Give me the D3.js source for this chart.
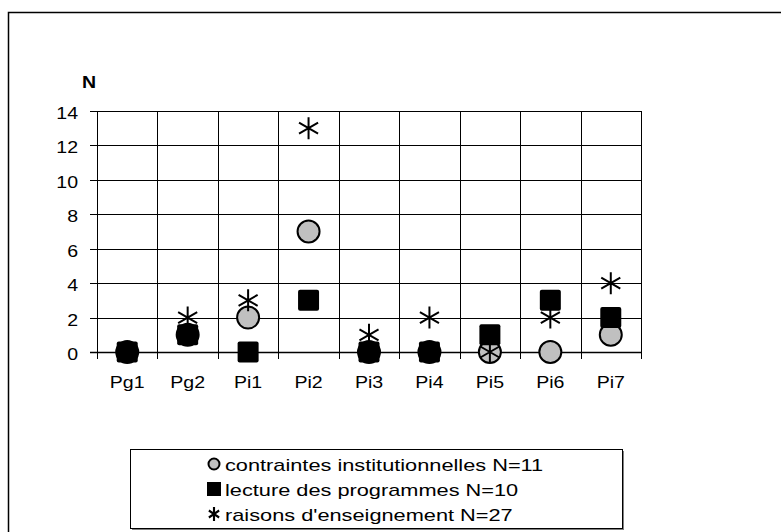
<!DOCTYPE html>
<html>
<head>
<meta charset="utf-8">
<script src="https://cdn.jsdelivr.net/npm/d3@7"></script>
<style>
  body { margin: 0; background: #fff; }
  svg text { font-family: "Liberation Sans", Arial, sans-serif; fill: #000; }
</style>
</head>
<body>
<div id="chart"></div>
<script>
// Data
var categories = ["Pg1", "Pg2", "Pi1", "Pi2", "Pi3", "Pi4", "Pi5", "Pi6", "Pi7"];
var contraintes = [0, 1, 2, 7, 0, 0, 0, 0, 1];
var lecture = [0, 1, 0, 3, 0, 0, 1, 3, 2];
var raisons = [0, 2, 3, 13, 1, 2, 0, 2, 4];
var yTicks = [0, 2, 4, 6, 8, 10, 12, 14];
var legendLabels = [
  "contraintes institutionnelles N=11",
  "lecture des programmes N=10",
  "raisons d'enseignement N=27"
];

var W = 781, H = 532;
var plot = { left: 97, right: 641, top: 111, bottom: 352 };
// the original chart is a bit stretched horizontally
var tickFont = "17px", tickSx = 1.15;
var legFont = "17px", legSx = 1.28;

var svg = d3.select("#chart")
  .append("svg")
    .attr("width", W)
    .attr("height", H);

// outer frame
svg.append("rect")
  .attr("x", 8.5).attr("y", 12.5)
  .attr("width", 800).attr("height", 600)
  .attr("fill", "none")
  .attr("stroke", "#000")
  .attr("stroke-width", 1.5);

var x = d3.scaleBand()
  .domain(categories)
  .range([plot.left, plot.right]);

var y = d3.scaleLinear()
  .domain([0, 14])
  .range([plot.bottom, plot.top]);

function place(px, py, s) {
  return "translate(" + px + "," + py + ") scale(" + s + ",1)";
}

// horizontal grid
svg.append("g")
  .selectAll("line")
  .data(yTicks)
  .enter().append("line")
    .attr("x1", plot.left - 7)
    .attr("x2", plot.right)
    .attr("y1", d => Math.round(y(d)) + 0.5)
    .attr("y2", d => Math.round(y(d)) + 0.5)
    .attr("stroke", "#000")
    .attr("stroke-width", d => d === 0 ? 1.5 : 1);

// vertical grid (band boundaries)
var bounds = categories.map(c => x(c)).concat([plot.right]);
svg.append("g")
  .selectAll("line")
  .data(bounds)
  .enter().append("line")
    .attr("x1", d => Math.round(d) + 0.5)
    .attr("x2", d => Math.round(d) + 0.5)
    .attr("y1", plot.top)
    .attr("y2", plot.bottom + 7)
    .attr("stroke", "#000")
    .attr("stroke-width", 1);

// y tick labels
svg.append("g")
  .selectAll("text")
  .data(yTicks)
  .enter().append("text")
    .attr("transform", d => place(plot.left - 19, y(d) + 2, tickSx))
    .attr("dy", "0.35em")
    .attr("text-anchor", "end")
    .style("font-size", tickFont)
    .text(d => d);

// x tick labels
svg.append("g")
  .selectAll("text")
  .data(categories)
  .enter().append("text")
    .attr("transform", d => place(x(d) + x.bandwidth() / 2, plot.bottom + 36, tickSx))
    .attr("text-anchor", "middle")
    .style("font-size", tickFont)
    .text(d => d);

// axis title
svg.append("text")
  .attr("transform", place(89, 88, tickSx))
  .attr("text-anchor", "middle")
  .style("font-size", tickFont)
  .style("font-weight", "bold")
  .text("N");

function starPath(r) {
  var a = r * Math.sin(Math.PI / 3), b = r * Math.cos(Math.PI / 3);
  return "M0," + (-r) + "L0," + r +
         "M" + (-a) + "," + (-b) + "L" + a + "," + b +
         "M" + (-a) + "," + b + "L" + a + "," + (-b);
}

var cx = d => x(d) + x.bandwidth() / 2;

// series 1: grey circles (black where hidden by a square at the same value)
svg.append("g")
  .selectAll("circle")
  .data(categories)
  .enter().append("circle")
    .attr("cx", cx)
    .attr("cy", (d, i) => y(contraintes[i]))
    .attr("r", 11)
    .attr("fill", (d, i) => contraintes[i] === lecture[i] ? "#000" : "#c0c0c0")
    .attr("stroke", "#000")
    .attr("stroke-width", 2);

// series 2: black squares
svg.append("g")
  .selectAll("rect")
  .data(categories)
  .enter().append("rect")
    .attr("x", d => cx(d) - 10.5)
    .attr("y", (d, i) => y(lecture[i]) - 10.5)
    .attr("width", 21)
    .attr("height", 21)
    .attr("rx", 2)
    .attr("fill", "#000");

// series 3: asterisks
svg.append("g")
  .selectAll("path")
  .data(categories)
  .enter().append("path")
    .attr("transform", (d, i) => "translate(" + cx(d) + "," + y(raisons[i]) + ")")
    .attr("d", starPath(11))
    .attr("fill", "none")
    .attr("stroke", "#000")
    .attr("stroke-width", 2);

// legend
var lg = svg.append("g");
lg.append("rect")
  .attr("x", 132).attr("y", 451)
  .attr("width", 492).attr("height", 79)
  .attr("fill", "#808080");
lg.append("rect")
  .attr("x", 130.5).attr("y", 449.5)
  .attr("width", 492).attr("height", 79)
  .attr("fill", "#fff")
  .attr("stroke", "#000")
  .attr("stroke-width", 1);

var legY = [464, 489, 514];
var lx = 214;
lg.append("circle")
  .attr("cx", lx).attr("cy", legY[0])
  .attr("r", 5.5)
  .attr("fill", "#c0c0c0")
  .attr("stroke", "#000")
  .attr("stroke-width", 2);
lg.append("rect")
  .attr("x", lx - 7).attr("y", legY[1] - 7)
  .attr("width", 14).attr("height", 14)
  .attr("fill", "#000");
lg.append("path")
  .attr("transform", "translate(" + lx + "," + legY[2] + ") scale(0.85,1)")
  .attr("d", starPath(7))
  .attr("fill", "none")
  .attr("stroke", "#000")
  .attr("stroke-width", 2.5);

lg.selectAll("text.leg")
  .data(legendLabels)
  .enter().append("text")
    .attr("class", "leg")
    .attr("transform", (d, i) => place(lx + 11, legY[i] + 1, legSx))
    .attr("dy", "0.35em")
    .style("font-size", legFont)
    .text(d => d);
</script>
</body>
</html>
